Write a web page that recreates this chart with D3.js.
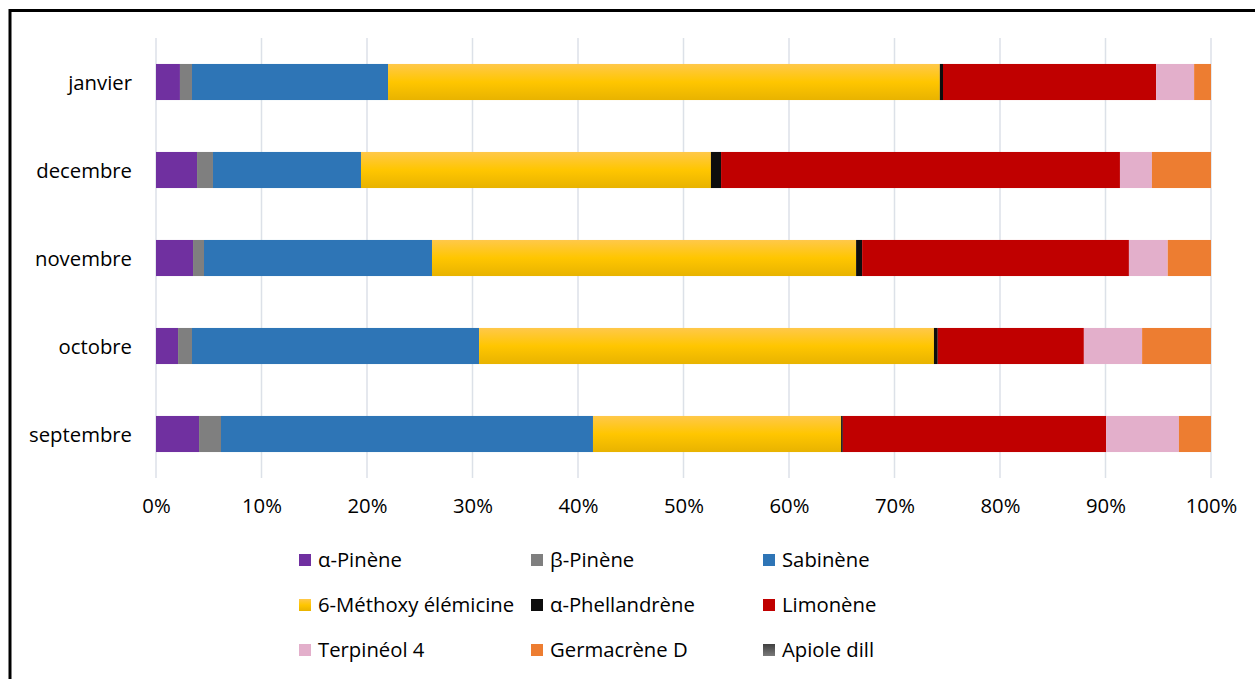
<!DOCTYPE html>
<html>
<head>
<meta charset="utf-8">
<script src="https://cdn.jsdelivr.net/npm/d3@7"></script>
<style>
  html, body { margin: 0; padding: 0; background: #fff; }
  svg { display: block; }
  text { font-family: "Open Sans", sans-serif; fill: #000; }
</style>
</head>
<body>
<svg id="chart" width="1255" height="679"></svg>
<script>
// Months shown top to bottom
const months = ["janvier", "decembre", "novembre", "octobre", "septembre"];

// Compounds in stacking order (share of total, %)
const compounds = ["α-Pinène", "β-Pinène", "Sabinène", "6-Méthoxy élémicine",
  "α-Phellandrène", "Limonène", "Terpinéol 4", "Germacrène D", "Apiole dill"];

const alphaPinene    = [2.27, 3.89, 3.51, 2.09, 4.08];
const betaPinene     = [1.14, 1.51, 1.04, 1.32, 2.08];
const sabinene       = [18.58, 14.03, 21.61, 27.21, 35.26];
const methoxyElem    = [52.30, 33.17, 40.20, 43.12, 23.52];
const alphaPhell     = [0.30, 0.96, 0.57, 0.36, 0.16];
const limonene       = [20.20, 37.81, 25.29, 13.85, 24.96];
const terpineol4     = [3.60, 3.03, 3.68, 5.52, 6.90];
const germacreneD    = [1.60, 5.60, 4.10, 6.53, 3.04];
const apioleDill     = [0, 0, 0, 0, 0];

const xTicks = [0, 0.1, 0.2, 0.3, 0.4, 0.5, 0.6, 0.7, 0.8, 0.9, 1.0];

const seriesValues = [alphaPinene, betaPinene, sabinene, methoxyElem,
  alphaPhell, limonene, terpineol4, germacreneD, apioleDill];

const colors = ["#7030A0", "#7F7F7F", "#2E75B6", "url(#gradYellow)",
  "#0D0D0D", "#C00000", "#E3AFCB", "#ED7D31", "url(#gradGray)"];

// Build rows for d3.stack, normalised to 100%
const rows = months.map((m, i) => {
  const r = { month: m };
  compounds.forEach((c, k) => { r[c] = seriesValues[k][i]; });
  return r;
});
const stacked = d3.stack().keys(compounds).offset(d3.stackOffsetExpand)(rows);

const svg = d3.select("#chart");
const defs = svg.append("defs");
const gy = defs.append("linearGradient").attr("id", "gradYellow")
  .attr("x1", 0).attr("y1", 0).attr("x2", 0).attr("y2", 1);
gy.append("stop").attr("offset", "0%").attr("stop-color", "#FFC84A");
gy.append("stop").attr("offset", "50%").attr("stop-color", "#FFC600");
gy.append("stop").attr("offset", "100%").attr("stop-color", "#E8B300");
const gg = defs.append("linearGradient").attr("id", "gradGray")
  .attr("x1", 0).attr("y1", 0).attr("x2", 0).attr("y2", 1);
gg.append("stop").attr("offset", "0%").attr("stop-color", "#404040");
gg.append("stop").attr("offset", "100%").attr("stop-color", "#7A7A7A");

// Outer frame
svg.append("rect").attr("x", 10).attr("y", 10.5)
  .attr("width", 1260).attr("height", 680)
  .attr("fill", "none").attr("stroke", "#000").attr("stroke-width", 3);

const x = d3.scaleLinear().domain([0, 1]).range([156, 1211]);
const y = d3.scaleBand().domain(months).range([38, 478]).paddingInner(0.59).paddingOuter(0.295);

// Vertical gridlines
svg.append("g").selectAll("line").data(xTicks).join("line")
  .attr("x1", d => x(d)).attr("x2", d => x(d))
  .attr("y1", 38).attr("y2", 478)
  .attr("stroke", "#DCE1E8").attr("stroke-width", 1.5);

// Bars
svg.append("g").selectAll("g").data(stacked).join("g")
  .attr("fill", (d, i) => colors[i])
  .selectAll("rect").data(d => d).join("rect")
  .attr("x", d => x(d[0]))
  .attr("y", d => y(d.data.month))
  .attr("width", d => Math.max(0, x(d[1]) - x(d[0])))
  .attr("height", y.bandwidth());

const FONT = '"Open Sans", sans-serif';
const FS = 20.3;

// X axis labels
const xAxis = d3.axisBottom(x).tickValues(xTicks).tickFormat(d3.format(".0%")).tickSize(0).tickPadding(0);
const gx = svg.append("g").attr("transform", "translate(0,499)").call(xAxis);
gx.select(".domain").remove();
gx.selectAll("text").attr("font-size", FS).attr("font-family", FONT).attr("fill", "#000");

// Y axis labels
const yAxis = d3.axisLeft(y).tickSize(0).tickPadding(0);
const gyAxis = svg.append("g").attr("transform", "translate(132,1)").call(yAxis);
gyAxis.select(".domain").remove();
gyAxis.selectAll("text").attr("font-size", FS).attr("font-family", FONT).attr("fill", "#000");

// Legend: 3 columns x 3 rows
const colX = [299, 531, 763];
const rowY = [560, 605, 650];
const leg = svg.append("g").selectAll("g").data(compounds).join("g")
  .attr("transform", (d, i) => `translate(${colX[i % 3]},${rowY[Math.floor(i / 3)]})`);
leg.append("rect").attr("x", 0).attr("y", -6).attr("width", 12).attr("height", 12)
  .attr("fill", (d, i) => colors[i]);
leg.append("text").attr("x", 19).attr("y", 0).attr("dy", "0.35em")
  .attr("font-size", FS).text(d => d);
</script>
</body>
</html>
